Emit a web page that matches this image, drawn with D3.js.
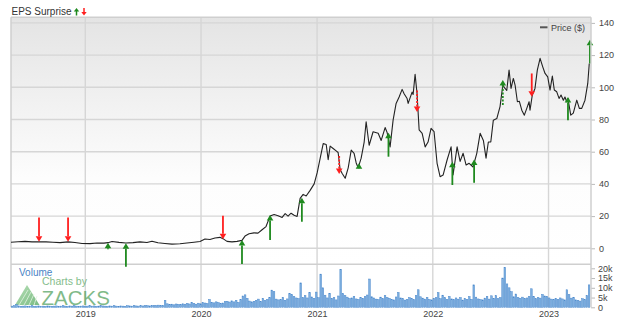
<!DOCTYPE html>
<html>
<head>
<meta charset="utf-8">
<script src="https://cdn.jsdelivr.net/npm/d3@7"></script>
<style>
  html, body { margin: 0; padding: 0; background: #fff; }
  svg { display: block; font-family: "Liberation Sans", Arial, sans-serif; }
</style>
</head>
<body>
<svg id="chart" width="620" height="324"></svg>
<script>
// ---------------- DATA ----------------
const yearTicks = [2019, 2020, 2021, 2022, 2023];
const priceTicks = [0, 20, 40, 60, 80, 100, 120, 140];
const volumeTicks = [0, 5, 10, 15, 20]; // thousands

// price series: time (decimal year) and close price ($)
const priceDates = [
  2018.358,2018.419,2018.479,2018.540,2018.600,2018.661,2018.721,2018.782,2018.851,2018.911,
  2018.972,2019.041,2019.101,2019.161,2019.196,2019.231,2019.291,2019.351,2019.412,2019.472,
  2019.533,2019.576,2019.628,2019.688,2019.749,2019.818,2019.878,2019.939,2019.991,2020.034,
  2020.077,2020.120,2020.163,2020.189,2020.224,2020.267,2020.310,2020.353,2020.379,2020.414,
  2020.457,2020.491,2020.526,2020.560,2020.595,2020.630,2020.664,2020.699,2020.725,2020.750,
  2020.776,2020.802,2020.828,2020.854,2020.880,2020.906,2020.940,2020.975,2021.001,2021.027,
  2021.053,2021.079,2021.096,2021.113,2021.139,2021.165,2021.182,2021.199,2021.217,2021.243,
  2021.269,2021.295,2021.320,2021.338,2021.355,2021.381,2021.407,2021.424,2021.450,2021.484,
  2021.528,2021.554,2021.588,2021.605,2021.631,2021.657,2021.683,2021.709,2021.735,2021.752,
  2021.778,2021.787,2021.821,2021.830,2021.847,2021.864,2021.882,2021.908,2021.934,2021.959,
  2021.985,2022.011,2022.037,2022.063,2022.089,2022.124,2022.158,2022.175,2022.210,2022.236,
  2022.262,2022.288,2022.314,2022.348,2022.380,2022.409,2022.437,2022.460,2022.480,2022.501,
  2022.523,2022.553,2022.581,2022.605,2022.624,2022.639,2022.659,2022.676,2022.696,2022.711,
  2022.731,2022.748,2022.769,2022.791,2022.812,2022.832,2022.840,2022.860,2022.883,2022.903,
  2022.927,2022.950,2022.970,2022.993,2023.013,2023.033,2023.050,2023.071,2023.091,2023.108,
  2023.128,2023.142,2023.157,2023.168,2023.192,2023.214,2023.244,2023.266,2023.287,2023.315,
  2023.339,2023.352
];
const priceValues = [
  3.8,4.1,4.3,4.0,4.1,4.0,3.8,3.5,4.0,3.6,
  3.0,2.9,3.3,3.2,3.5,4.2,3.7,3.3,3.5,4.0,
  3.6,4.4,3.4,3.0,2.6,2.8,3.3,3.8,4.2,5.8,
  5.5,6.4,6.8,6.0,4.3,4.0,4.3,4.9,7.6,9.0,
  9.6,9.4,11.5,13.5,20.0,21.0,20.2,19.2,21.5,20.0,
  21.8,20.5,19.8,31.0,33.5,32.5,36,40,47,56,
  65,64.5,55,63.5,62,60.5,59.5,49,46.5,43.5,
  50,61,59,53,50,56,66,78.6,64,72.4,
  71.5,67,75,72,63,79.6,90,94,98.7,96,
  93,90,97,95.5,108,96,73.5,71.4,63,66,
  74.5,72.4,52.8,44.5,45.5,55,63,45.5,63,54,
  59,51.7,52.8,50.5,59,71.4,67,56,66,66,
  79.6,80.6,88,101.4,99.3,98,110.7,99.3,105.5,101.4,
  91,91.3,85.8,82.7,86.9,91,85.8,95.2,99.3,110.7,
  118,112.7,108.6,106.5,98.3,107,98.3,97.2,93.1,95.2,
  92,94,91,93,82.7,84,92,86.9,86.9,92,
  102.4,114.8
];

// weekly volume (thousands), first week starting at volumeStart, one value per week
const volumeStart = 2018.358;
const volumeWeek = 7 / 365.25;
const volumeValues = [
  0.6,0.8,1.4,0.7,0.5,0.6,0.7,0.5,0.6,0.8,
  0.5,0.6,0.7,0.5,0.6,0.5,0.7,0.6,0.5,0.6,
  0.7,0.5,0.6,0.8,0.6,0.5,0.7,0.6,0.9,0.6,
  0.5,0.6,0.7,0.5,0.6,0.8,0.6,0.7,0.5,0.6,
  0.9,0.7,0.6,0.5,0.7,0.6,0.8,0.6,0.5,0.7,
  0.6,0.5,0.8,0.7,0.6,0.9,0.7,0.6,0.8,0.7,
  0.9,0.8,0.7,1.0,0.9,0.8,1.1,0.9,1.0,3.6,
  1.8,1.5,1.6,1.3,1.7,1.5,1.4,1.8,1.6,2.0,
  1.7,2.5,1.9,1.6,2.1,1.8,2.4,2.2,1.9,4.0,
  2.6,2.3,2.8,2.4,2.0,2.2,2.9,3.1,2.7,3.3,
  2.8,3.6,2.5,3.9,5.8,6.4,4.6,3.2,2.8,3.1,
  3.6,4.2,3.0,4.6,3.5,4.0,5.0,8.8,8.0,4.2,
  3.8,4.0,5.1,3.6,4.3,7.0,6.5,5.5,4.8,4.5,
  12.5,5.0,6.0,4.8,7.5,5.3,4.6,7.8,4.9,17.0,
  10.0,6.2,4.8,7.2,4.6,5.0,3.8,5.8,19.5,7.0,
  6.0,5.2,4.5,4.8,5.6,4.3,4.0,5.0,4.6,5.5,
  6.3,14.5,5.4,4.8,4.2,3.9,5.2,4.4,6.0,5.0,
  4.6,4.0,3.8,5.3,7.6,4.8,4.4,3.7,4.1,5.0,
  4.5,3.9,6.0,9.0,5.4,4.7,4.2,5.1,4.0,3.8,
  4.6,4.9,7.5,4.4,6.2,4.9,4.0,5.6,4.3,3.9,
  4.8,4.2,5.0,3.7,4.5,4.0,5.5,4.1,11.5,5.2,
  4.3,4.0,3.8,4.7,5.6,4.2,5.9,4.6,6.0,4.4,
  5.0,15.0,20.5,12.0,10.0,8.0,5.4,6.8,5.0,4.6,
  5.2,4.5,4.8,5.6,9.5,5.5,4.4,5.0,4.7,6.6,
  5.8,5.6,4.8,4.2,3.9,4.5,4.0,4.8,4.3,3.8,
  9.0,6.5,4.7,5.0,3.8,3.6,3.2,4.4,3.9,6.0,
  11.5
];

// EPS surprise arrows: date, direction, tip price, tail price, dashed
const epsDates = [2018.600,2018.851,2019.196,2019.351,2020.189,2020.353,2020.595,2020.869,2021.191,
                  2021.362,2021.617,2021.864,2022.169,2022.357,2022.605,2022.855,2023.168,2023.358];
const epsDirection = ["down","down","up","up","down","up","up","up","down",
                      "up","up","down","up","up","up","down","up","up"];
const epsTip  = [4.1,4.1,3.5,3.1,5.6,5.2,20.7,31.4,46.1,52.8,71.8,84.6,53.8,55.2,104.5,94.1,93.9,129.6];
const epsTail = [19.2,19.2,-0.6,-11.4,20.2,-9.7,5.2,16.5,57.9,49.2,56.9,98.9,39.3,40.7,89,108.6,79.6,114.8];
const epsDashed = [false,false,false,false,false,false,false,false,true,
                   false,false,true,false,false,true,false,false,false];

// ---------------- DRAW ----------------
const toDate = t => {
  const y = Math.floor(t);
  const s = Date.UTC(y, 0, 1), e = Date.UTC(y + 1, 0, 1);
  return new Date(s + (t - y) * (e - s));
};

const L = 11, R = 591, T = 17.3, PB = 264.3, VB = 307.3;
const GREEN = "#1f8a1f", RED = "#ff1f1f";

const svg = d3.select("#chart");

const x = d3.scaleUtc().domain([toDate(2018.358), toDate(2023.367)]).range([L, R]);
const y = d3.scaleLinear().domain([0, 140]).range([248.3, 22.9]);
const yv = d3.scaleLinear().domain([0, 20]).range([VB, 268.3]);

// gradient background for price panel
const defs = svg.append("defs");
const grad = defs.append("linearGradient").attr("id", "bg").attr("x1", 0).attr("y1", 0).attr("x2", 0).attr("y2", 1);
grad.append("stop").attr("offset", "0%").attr("stop-color", "#e4e4e4");
grad.append("stop").attr("offset", "65%").attr("stop-color", "#fdfdfd");
grad.append("stop").attr("offset", "100%").attr("stop-color", "#ffffff");
const tgrad = defs.append("linearGradient").attr("id", "tri").attr("x1", 0).attr("y1", 0).attr("x2", 1).attr("y2", 1);
tgrad.append("stop").attr("offset", "0%").attr("stop-color", "#9fd59f");
tgrad.append("stop").attr("offset", "100%").attr("stop-color", "#4ea55a");

svg.append("rect").attr("x", L).attr("y", T).attr("width", R - L).attr("height", PB - T).attr("fill", "url(#bg)");

// horizontal gridlines (price)
svg.append("g").selectAll("line").data(priceTicks).join("line")
  .attr("x1", L).attr("x2", R).attr("y1", d => y(d)).attr("y2", d => y(d))
  .attr("stroke", "#d6d6d6").attr("stroke-width", 1.4);

// vertical year gridlines
svg.append("g").selectAll("line").data(yearTicks).join("line")
  .attr("x1", d => x(toDate(d))).attr("x2", d => x(toDate(d)))
  .attr("y1", T).attr("y2", VB)
  .attr("stroke", "#d6d6d6").attr("stroke-width", 1.4);

// panel borders
svg.append("line").attr("x1", L).attr("x2", R).attr("y1", T).attr("y2", T).attr("stroke", "#cfcfcf").attr("stroke-width", 1.5);
svg.append("line").attr("x1", L).attr("x2", L).attr("y1", T).attr("y2", VB).attr("stroke", "#cfcfcf").attr("stroke-width", 1.5);
svg.append("line").attr("x1", L).attr("x2", R).attr("y1", PB).attr("y2", PB).attr("stroke", "#cfcfcf").attr("stroke-width", 1.5);

// watermark logo
const wm = svg.append("g").attr("opacity", 0.75);
wm.append("path").attr("d", `M15,305 L27,285 L39.5,305 Z`).attr("fill", "url(#tri)");
[0, 1, 2, 3].forEach(k => {
  wm.append("line").attr("x1", 19 + k * 5).attr("y1", 305).attr("x2", 28 + k * 3).attr("y2", 290 + k * 2)
    .attr("stroke", "#d8f0d8").attr("stroke-width", 0.8);
});
wm.append("text").attr("x", 42).attr("y", 284.5).attr("font-size", 10.5).attr("fill", "#5aa764").text("Charts by");
wm.append("text").attr("x", 41.5).attr("y", 304.5).attr("font-size", 20.5).attr("fill", "#56a462").text("ZACKS");

svg.append("text").attr("x", 19).attr("y", 275.5).attr("font-size", 10).attr("fill", "#4a84c6").text("Volume");

// volume bars
const barW = x(toDate(volumeStart + volumeWeek)) - x(toDate(volumeStart));
svg.append("g").selectAll("rect").data(volumeValues).join("rect")
  .attr("x", (d, i) => x(toDate(volumeStart + i * volumeWeek)) + 0.3)
  .attr("y", d => yv(d))
  .attr("width", barW * 0.72)
  .attr("height", d => VB - yv(d))
  .attr("fill", "#7fb0e0").attr("stroke", "#4a88cc").attr("stroke-width", 0.5);

// price line
const line = d3.line().x((d, i) => x(toDate(priceDates[i]))).y(d => y(d));
svg.append("path").datum(priceValues).attr("d", line)
  .attr("fill", "none").attr("stroke", "#222").attr("stroke-width", 1.1).attr("stroke-linejoin", "round");

// EPS arrows
const hw = 3.3, hh = 5.5;
const ag = svg.append("g");
epsDates.forEach((t, i) => {
  const cx = x(toDate(t));
  const tipY = y(epsTip[i]), tailY = y(epsTail[i]);
  const up = epsDirection[i] === "up";
  const col = up ? GREEN : RED;
  const baseY = up ? tipY + hh : tipY - hh;
  ag.append("line").attr("x1", cx).attr("x2", cx).attr("y1", baseY).attr("y2", tailY)
    .attr("stroke", col).attr("stroke-width", 1.8)
    .attr("stroke-dasharray", epsDashed[i] ? "2,1.5" : null);
  ag.append("path").attr("d", `M${cx},${tipY} L${cx - hw},${baseY} L${cx + hw},${baseY} Z`).attr("fill", col);
});

// axes
const fmtV = d => d === 0 ? "0" : d + "k";
const ax = svg.append("g").attr("transform", `translate(${R},0)`)
  .call(d3.axisRight(y).tickValues(priceTicks).tickSize(4).tickPadding(4));
const axv = svg.append("g").attr("transform", `translate(${R},0)`)
  .call(d3.axisRight(yv).tickValues(volumeTicks).tickFormat(fmtV).tickSize(4).tickPadding(3));
const axx = svg.append("g").attr("transform", `translate(0,${VB})`)
  .call(d3.axisBottom(x).tickValues(yearTicks.map(toDate)).tickFormat(d3.utcFormat("%Y")).tickSize(0).tickPadding(3));
[ax, axv, axx].forEach(g => {
  g.select(".domain").remove();
  g.selectAll("text").attr("font-size", 9).attr("fill", "#444").attr("font-family", '"Liberation Sans", Arial, sans-serif');
  g.selectAll(".tick line").attr("stroke", "#bbb");
});
svg.append("line").attr("x1", R).attr("x2", R).attr("y1", T).attr("y2", VB).attr("stroke", "#cfcfcf").attr("stroke-width", 1.5);

// legend
svg.append("line").attr("x1", 540).attr("x2", 547.5).attr("y1", 27.3).attr("y2", 27.3).attr("stroke", "#555").attr("stroke-width", 2);
svg.append("text").attr("x", 551).attr("y", 30.5).attr("font-size", 9).attr("fill", "#444").text("Price ($)");

// title with mini arrows
svg.append("text").attr("x", 11.5).attr("y", 14.5).attr("font-size", 10).attr("fill", "#333").text("EPS Surprise");
const ta = svg.append("g");
ta.append("path").attr("d", "M76.5,8 L73.8,11.5 L79.2,11.5 Z").attr("fill", GREEN);
ta.append("line").attr("x1", 76.5).attr("x2", 76.5).attr("y1", 11).attr("y2", 15.5).attr("stroke", GREEN).attr("stroke-width", 1.5);
ta.append("path").attr("d", "M84,15.5 L81.3,12 L86.7,12 Z").attr("fill", RED);
ta.append("line").attr("x1", 84).attr("x2", 84).attr("y1", 8).attr("y2", 12.5).attr("stroke", RED).attr("stroke-width", 1.5);
</script>
</body>
</html>
